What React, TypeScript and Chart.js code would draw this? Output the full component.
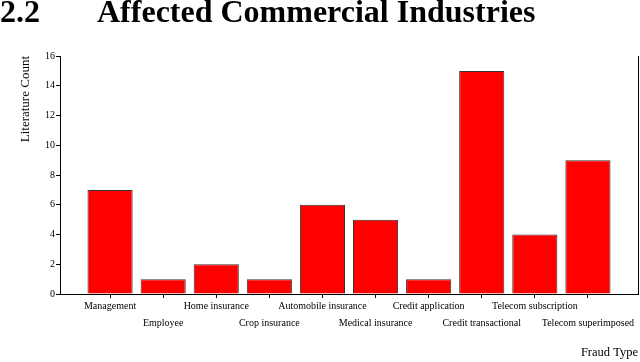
import React, { useEffect, useRef } from "react";
import { Chart, registerables } from "chart.js";

Chart.register(...registerables);

const categories = [
  "Management",
  "Employee",
  "Home insurance",
  "Crop insurance",
  "Automobile insurance",
  "Medical insurance",
  "Credit application",
  "Credit transactional",
  "Telecom subscription",
  "Telecom superimposed",
];
const counts = [7, 1, 2, 1, 6, 5, 1, 15, 4, 9];
const yTicks = [0, 2, 4, 6, 8, 10, 12, 14, 16];

const FONT = "'Liberation Serif', 'Times New Roman', serif";

const rightBorder = {
  id: "rightBorder",
  afterDraw(chart: any) {
    const { ctx, chartArea } = chart;
    ctx.save();
    ctx.strokeStyle = "#000";
    ctx.lineWidth = 1;
    ctx.beginPath();
    ctx.moveTo(chartArea.right + 0.5, chartArea.top);
    ctx.lineTo(chartArea.right + 0.5, chartArea.bottom);
    ctx.stroke();
    ctx.restore();
  },
};

export default function App() {
  const ref = useRef<HTMLCanvasElement>(null);

  useEffect(() => {
    if (!ref.current) return;
    const chart = new Chart(ref.current, {
      type: "bar",
      data: {
        datasets: [
          {
            data: counts.map((v, i) => ({ x: i, y: v })),
            backgroundColor: "#ff0000",
            borderColor: "#333",
            borderWidth: 1,
            barPercentage: 1,
            categoryPercentage: 0.85,
          },
        ],
      },
      plugins: [rightBorder],
      options: {
        animation: false,
        responsive: false,
        maintainAspectRatio: false,
        layout: { padding: { top: 56, right: 2, left: 0, bottom: 0 } },
        plugins: {
          legend: { display: false },
          tooltip: { enabled: false },
        },
        scales: {
          x: {
            type: "linear",
            offset: false,
            min: -0.943,
            max: 9.943,
            afterBuildTicks: (scale: any) => {
              scale.ticks = categories.map((_, i) => ({ value: i }));
            },
            afterFit: (scale: any) => {
              scale.height = 68;
            },
            grid: {
              display: true,
              offset: false,
              drawOnChartArea: false,
              drawTicks: true,
              tickLength: 4,
              color: "#000",
            },
            border: { display: true, color: "#000", width: 1 },
            ticks: {
              autoSkip: false,
              maxRotation: 0,
              minRotation: 0,
              padding: 0,
              color: "#000",
              font: { family: FONT, size: 10, lineHeight: 1.7 },
              callback: (value: any) => {
                const i = Math.round(Number(value));
                const label = categories[i] ?? "";
                return i % 2 === 1 ? ["", label] : label;
              },
            },
            title: {
              display: true,
              text: "Fraud Type",
              align: "end",
              color: "#000",
              font: { family: FONT, size: 12.5 },
              padding: { top: 0, bottom: 2 },
            },
          },
          y: {
            type: "linear",
            min: 0,
            max: 16,
            afterBuildTicks: (scale: any) => {
              scale.ticks = yTicks.map((v) => ({ value: v }));
            },
            afterFit: (scale: any) => {
              scale.width = 60;
            },
            grid: {
              display: true,
              drawOnChartArea: false,
              drawTicks: true,
              tickLength: 4,
              color: "#000",
            },
            border: { display: true, color: "#000", width: 1 },
            ticks: {
              padding: 1,
              color: "#000",
              font: { family: FONT, size: 10 },
            },
            title: {
              display: true,
              text: "Literature Count",
              align: "end",
              color: "#000",
              font: { family: FONT, size: 13 },
              padding: { top: 18, bottom: 0 },
            },
          },
        },
      },
    });
    return () => chart.destroy();
  }, []);

  return (
    <div
      style={{
        position: "fixed",
        left: 0,
        top: 0,
        width: 640,
        height: 362,
        background: "#fff",
        overflow: "hidden",
      }}
    >
      <canvas
        ref={ref}
        width={640}
        height={362}
        style={{ position: "absolute", left: 0, top: 0, width: 640, height: 362 }}
      />
      <div
        style={{
          position: "absolute",
          left: 0,
          top: -5,
          fontFamily: FONT,
          fontWeight: "bold",
          fontSize: 32,
          lineHeight: "32px",
          whiteSpace: "nowrap",
          color: "#000",
        }}
      >
        2.2
      </div>
      <div
        style={{
          position: "absolute",
          left: 97,
          top: -5,
          fontFamily: FONT,
          fontWeight: "bold",
          fontSize: 32,
          lineHeight: "32px",
          whiteSpace: "nowrap",
          color: "#000",
        }}
      >
        Affected Commercial Industries
      </div>
    </div>
  );
}
